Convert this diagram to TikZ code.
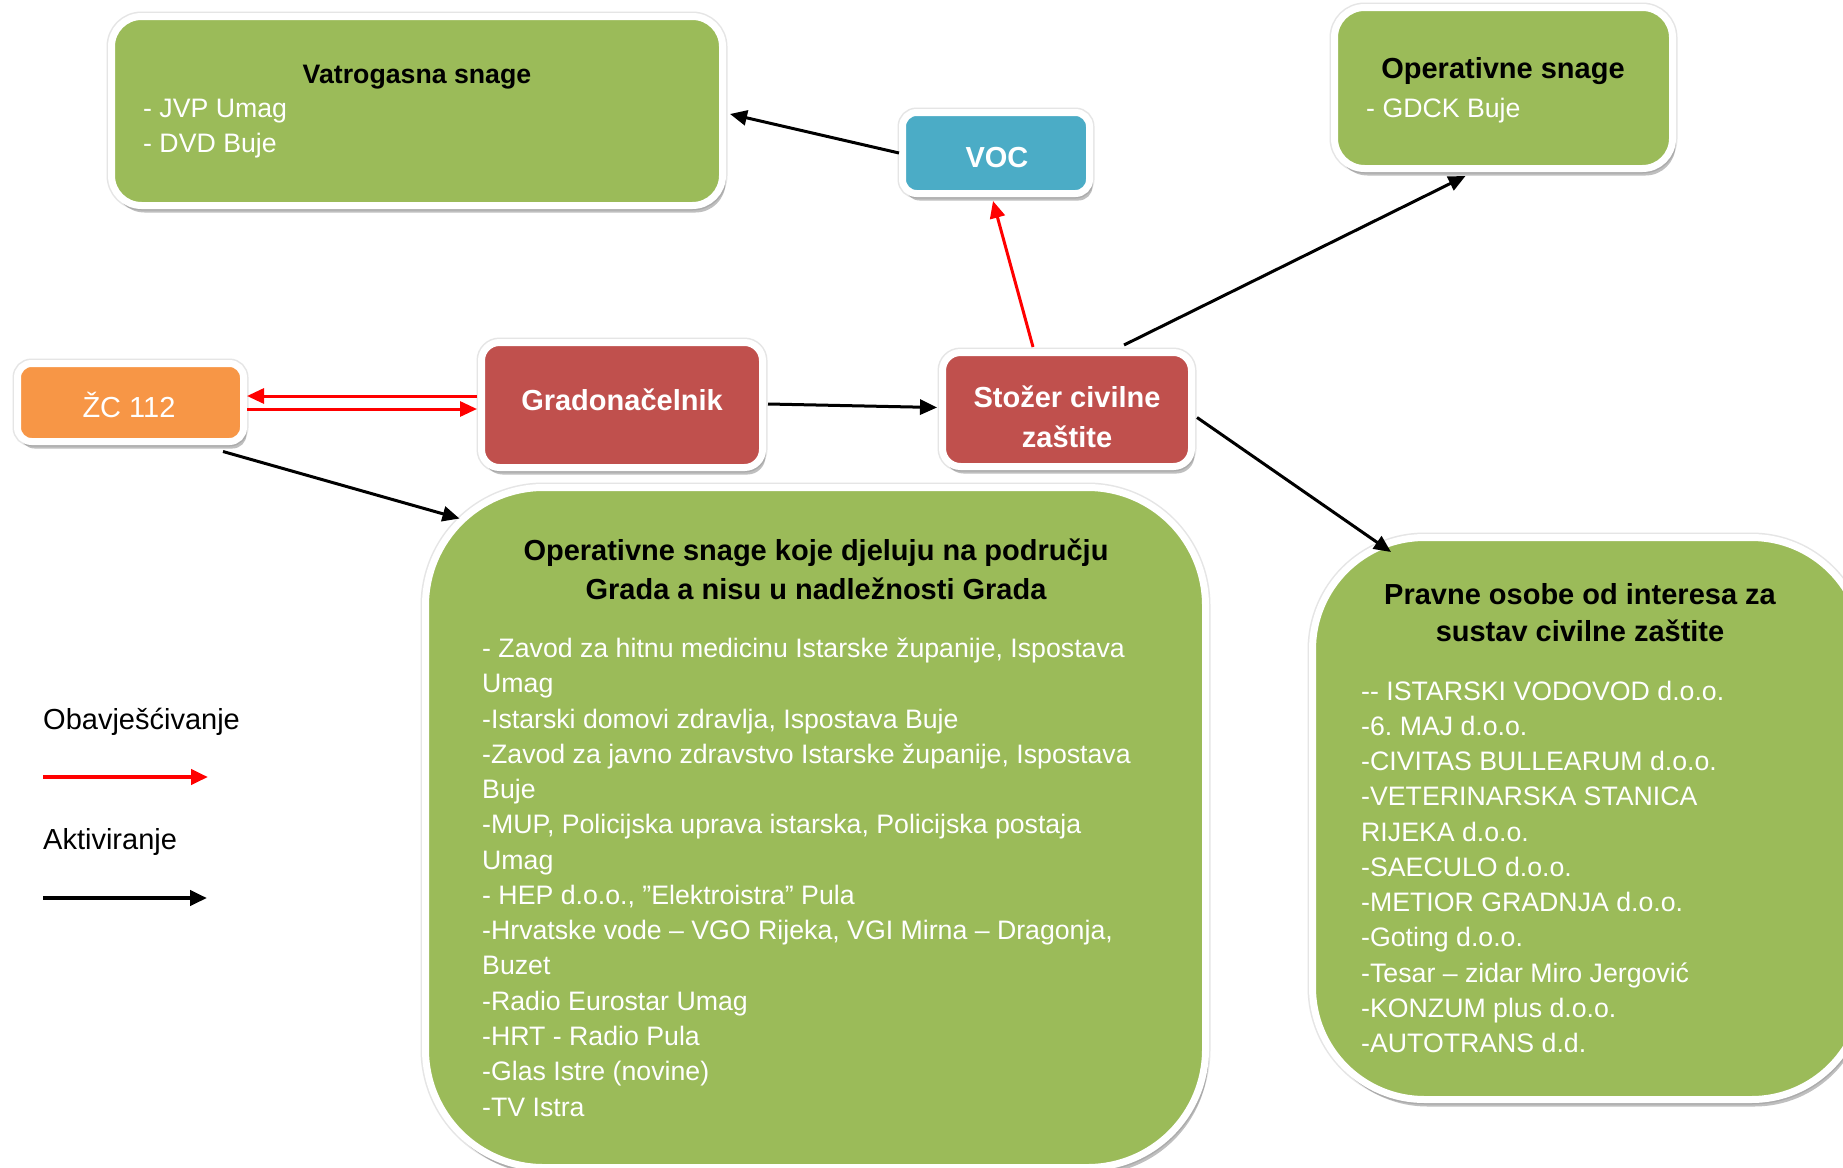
\documentclass[tikz,border=0pt]{standalone}
\usepackage{fontspec}
\setmainfont{Liberation Sans}
\usetikzlibrary{arrows.meta,calc,shadows}
\definecolor{cgreen}{HTML}{9BBB59}
\definecolor{cred}{HTML}{C0504D}
\definecolor{corange}{HTML}{F79646}
\definecolor{cblue}{HTML}{4BACC6}
\definecolor{arrred}{HTML}{FF0000}
\frenchspacing
\begin{document}
\begin{tikzpicture}[x=1pt,y=-1pt,
  box/.style={draw=white,line width=7pt,inner sep=0pt,rounded corners=26pt,
    preaction={draw=black!10,line width=10pt},
    drop shadow={shadow xshift=3pt,shadow yshift=-7pt,fill=black,opacity=0.25}},
  item/.style={text=white,font=\frenchspacing\fontsize{26.7}{35.3}\selectfont,inner sep=0pt,anchor=base west},
  ttl/.style={text=black,font=\bfseries\fontsize{29}{39}\selectfont,inner sep=0pt,anchor=base},
  wttl/.style={text=white,font=\bfseries\fontsize{29}{39}\selectfont,inner sep=0pt,anchor=base},
  lgd/.style={text=black,font=\fontsize{29}{39}\selectfont,inner sep=0pt,anchor=base west},
  act/.style={line width=3pt,black,-{Triangle[length=17pt,width=15pt]}},
  inf/.style={line width=3pt,arrred,-{Triangle[length=17pt,width=15pt]}}]
\clip (0,0) rectangle (1843,1167);
\fill[white] (0,0) rectangle (1843,1167);

% boxes
\node[box,fill=cgreen,minimum width=611pt,minimum height=189pt,rounded corners=30pt] (vat) at (417,111) {};
\node[box,fill=cblue,minimum width=187pt,minimum height=81pt,rounded corners=14pt] (voc) at (996,153) {};
\node[box,fill=cgreen,minimum width=338pt,minimum height=161pt,rounded corners=30pt] (ops) at (1503.5,88) {};
\node[box,fill=corange,minimum width=226pt,minimum height=78pt,rounded corners=14pt] (zc) at (130.5,402.5) {};
\node[box,fill=cred,minimum width=281pt,minimum height=125pt,rounded corners=18pt] (grad) at (622,405) {};
\node[box,fill=cred,minimum width=249pt,minimum height=114pt,rounded corners=18pt] (stozer) at (1067,409.5) {};
\node[box,fill=cgreen,minimum width=780pt,minimum height=680pt,rounded corners=118pt] (big) at (815.5,827.5) {};
\node[box,fill=cgreen,minimum width=551pt,minimum height=562pt,rounded corners=112pt] (prav) at (1588,818.5) {};

% texts
\node[ttl,font=\bfseries\fontsize{26.7}{35}\selectfont] (vatT) at (417,83) {Vatrogasna snage};
\node[item] (vat1) at (143,117.5) {- JVP Umag};
\node[item] (vat2) at (143,152.5) {- DVD Buje};

\node[wttl] (vocT) at (997,167.5) {VOC};

\node[ttl] (opsT) at (1503,78.5) {Operativne snage};
\node[item] (ops1) at (1366,117) {- GDCK Buje};

\node[text=white,font=\fontsize{29}{39}\selectfont,inner sep=0pt,anchor=base] (zcT) at (129,417.5) {ŽC 112};
\node[wttl] (gradT) at (622,410.5) {Gradonačelnik};
\node[wttl] (stT1) at (1067,407.5) {Stožer civilne};
\node[wttl] (stT2) at (1067,447.5) {zaštite};

\node[ttl] (bigT1) at (816,560) {Operativne snage koje djeluju na području};
\node[ttl] (bigT2) at (816,599.5) {Grada a nisu u nadležnosti Grada};
\foreach \t [count=\i from 0] in {{- Zavod za hitnu medicinu Istarske županije, Ispostava},
  Umag, {-Istarski domovi zdravlja, Ispostava Buje},
  {-Zavod za javno zdravstvo Istarske županije, Ispostava}, Buje,
  {-MUP, Policijska uprava istarska, Policijska postaja}, Umag,
  {- HEP d.o.o., ”Elektroistra” Pula},
  {-Hrvatske vode – VGO Rijeka, VGI Mirna – Dragonja,}, Buzet,
  -Radio Eurostar Umag, -HRT - Radio Pula, -Glas Istre (novine), -TV Istra}
  \node[item] (bigI\i) at (482,657.5+35.27*\i) {\t};

\node[ttl] (pravT1) at (1580,604) {Pravne osobe od interesa za};
\node[ttl] (pravT2) at (1580,641.5) {sustav civilne zaštite};
\foreach \t [count=\i from 0] in {{-}{-} ISTARSKI VODOVOD d.o.o., -6. MAJ d.o.o.,
  -CIVITAS BULLEARUM d.o.o., -VETERINARSKA STANICA, RIJEKA d.o.o.,
  -SAECULO d.o.o., -METIOR GRADNJA d.o.o., -Goting d.o.o.,
  -Tesar – zidar Miro Jergović, -KONZUM plus d.o.o., -AUTOTRANS d.d.}
  \node[item] (pravI\i) at (1361,700+35.27*\i) {\t};

% legend
\node[lgd] (lg1) at (43,729.5) {Obavješćivanje};
\node[lgd] (lg2) at (43,849.5) {Aktiviranje};
\coordinate (lr1) at (43,777);
\coordinate (lr2) at (208,777);
\coordinate (lb1) at (43,898);
\coordinate (lb2) at (207,898);
\draw[inf,line width=4pt] (lr1) -- (lr2);
\draw[act,line width=4pt] (lb1) -- (lb2);

% connectors
\draw[act] (voc.west) -- ($(vat.east)+(4,3)$);
\draw[inf] ($(stozer.north)+(-34,-2)$) -- ($(voc.south)+(-3,4)$);
\draw[act] ($(stozer.north)+(57,-4)$) -- ($(ops.south)+(-38,4)$);
\draw[act] ($(stozer.east)+(2,8)$) -- ($(prav.north west)+(82,18)$);
\draw[act] ($(grad.east)+(2,-1)$) -- ($(stozer.west)+(-2,-2)$);
\draw[inf] ($(grad.west)+(-1,-9)$) -- ($(zc.east)+(0,-6.5)$);
\draw[inf] ($(zc.east)+(0,6.5)$) -- ($(grad.west)+(-1,4)$);
\draw[act] ($(zc.south)+(92.5,6.5)$) -- ($(big.north west)+(37.5,34.5)$);
\end{tikzpicture}
\end{document}
